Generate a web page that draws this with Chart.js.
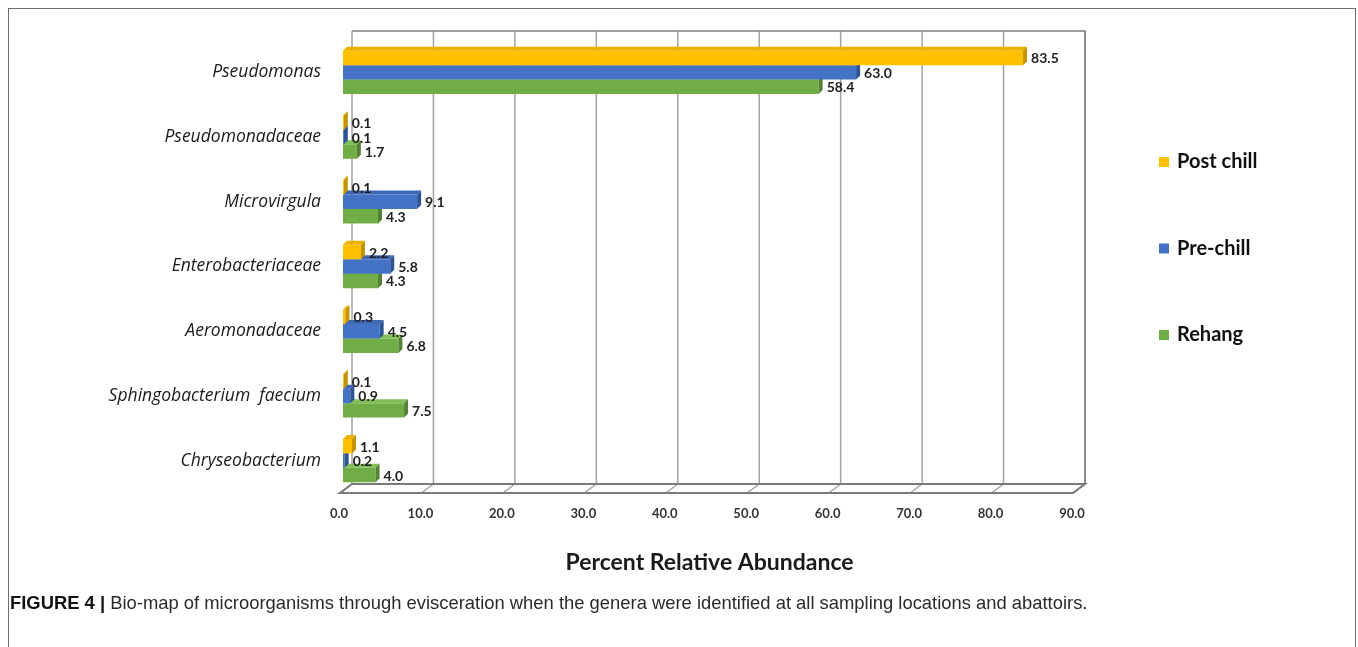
<!DOCTYPE html>
<html>
<head>
<meta charset="utf-8">
<script src="https://cdn.jsdelivr.net/npm/chart.js@4.4.0/dist/chart.umd.min.js"></script>
<style>
  html, body { margin: 0; padding: 0; background: #fff; }
  #wrap { position: relative; width: 1358px; height: 647px; overflow: hidden; }
  #frame { position: absolute; left: 8px; top: 8px; width: 1348px; height: 700px;
           border: 1.5px solid #6e6e6e; border-bottom: none; box-sizing: border-box; }
  #c { position: absolute; left: 0; top: 0; }
  #caption { position: absolute; left: 10px; top: 592px; font-family: "Liberation Sans", Arial, sans-serif;
             font-size: 18.4px; color: #2a2a2a; white-space: nowrap; }
  #caption b { color: #111; }
</style>
</head>
<body>
<div id="wrap">
  <div id="frame"></div>
  <canvas id="c" width="1358" height="647"></canvas>
  <div id="caption"><b>FIGURE 4 |</b> Bio-map of microorganisms through evisceration when the genera were identified at all sampling locations and abattoirs.</div>
</div>
<script>
// Genera / families on the vertical axis (top to bottom)
const categories = [
  'Pseudomonas',
  'Pseudomonadaceae',
  'Microvirgula',
  'Enterobacteriaceae',
  'Aeromonadaceae',
  'Sphingobacterium  faecium',
  'Chryseobacterium'
];

// Percent relative abundance at each sampling point
const postChill = [83.5, 0.1, 0.1, 2.2, 0.3, 0.1, 1.1];
const preChill  = [63.0, 0.1, 9.1, 5.8, 4.5, 0.9, 0.2];
const rehang    = [58.4, 1.7, 4.3, 4.3, 6.8, 7.5, 4.0];

const seriesNames = ['Post chill', 'Pre-chill', 'Rehang'];
const xTicks = [0, 10, 20, 30, 40, 50, 60, 70, 80, 90];

const BACK_DX = 9;      // back wall shift right of the bar fronts
const FRONT_DX = -3;    // floor front edge shift left of the bar fronts
const WALL_DY = 9;      // vertical depth of the box
const BAR_DEPTH = 4;    // extrusion of each bar

// Back wall, gridlines and floor of the 3-D plot box
const wallPlugin = {
  id: 'wall3d',
  beforeDatasetsDraw(chart) {
    const { ctx, chartArea: a, scales: { x } } = chart;
    const backTop = a.top - WALL_DY, backBottom = a.bottom - WALL_DY;
    ctx.save();
    ctx.lineCap = 'butt';
    ctx.strokeStyle = '#a3a3a3';
    ctx.lineWidth = 1.5;
    xTicks.forEach(v => {
      const px = x.getPixelForValue(v);
      ctx.beginPath();
      ctx.moveTo(px + BACK_DX, backTop);
      ctx.lineTo(px + BACK_DX, backBottom);
      ctx.stroke();
      ctx.beginPath();
      ctx.moveTo(px + FRONT_DX, a.bottom);
      ctx.lineTo(px + BACK_DX, backBottom);
      ctx.stroke();
    });
    const l = x.getPixelForValue(0), r = x.getPixelForValue(90);
    // wall outline (top and right edges)
    ctx.strokeStyle = '#808080';
    ctx.lineWidth = 1.6;
    ctx.beginPath();
    ctx.moveTo(l + BACK_DX, backTop);
    ctx.lineTo(r + BACK_DX, backTop);
    ctx.lineTo(r + BACK_DX, backBottom);
    ctx.stroke();
    // floor edges
    ctx.strokeStyle = '#7a7a7a';
    ctx.lineWidth = 2;
    ctx.beginPath();
    ctx.moveTo(l + BACK_DX, backBottom);
    ctx.lineTo(r + BACK_DX, backBottom);
    ctx.lineTo(r + FRONT_DX, a.bottom);
    ctx.lineTo(l + FRONT_DX, a.bottom);
    ctx.closePath();
    ctx.stroke();
    ctx.restore();
  },
  // top and side faces of each bar, drawn right after that series' fronts
  afterDatasetDraw(chart, args) {
    const ctx = chart.ctx;
    const ds = chart.data.datasets[args.index];
    const d = BAR_DEPTH;
    ctx.save();
    args.meta.data.forEach(bar => {
      const { x, y, base, height } = bar.getProps(['x', 'y', 'base', 'height'], true);
      const x0 = base, x1 = x, y0 = y - height / 2, y1 = y + height / 2;
      ctx.fillStyle = ds.topColor;
      ctx.beginPath();
      ctx.moveTo(x0, y0); ctx.lineTo(x1, y0); ctx.lineTo(x1 + d, y0 - d); ctx.lineTo(x0 + d, y0 - d);
      ctx.closePath(); ctx.fill();
      ctx.fillStyle = ds.sideColor;
      ctx.beginPath();
      ctx.moveTo(x1, y0); ctx.lineTo(x1 + d, y0 - d); ctx.lineTo(x1 + d, y1 - d); ctx.lineTo(x1, y1);
      ctx.closePath(); ctx.fill();
    });
    ctx.restore();
  },
  // value labels at the end of each bar
  afterDatasetsDraw(chart) {
    const ctx = chart.ctx;
    ctx.save();
    ctx.font = 'bold 14px Lato, sans-serif';
    ctx.fillStyle = '#1e1e1e';
    ctx.textAlign = 'left';
    ctx.textBaseline = 'middle';
    chart.data.datasets.forEach((ds, i) => {
      chart.getDatasetMeta(i).data.forEach((bar, j) => {
        const { x, y } = bar.getProps(['x', 'y'], true);
        ctx.fillText(ds.data[j].toFixed(1), x + BAR_DEPTH + 4, y + 1);
      });
    });
    ctx.restore();
  },
  // legend column on the right
  afterDraw(chart) {
    const ctx = chart.ctx;
    const o = chart.options.plugins.wall3d;
    ctx.save();
    ctx.font = 'bold 20px Lato, sans-serif';
    ctx.textBaseline = 'middle';
    chart.data.datasets.forEach((ds, i) => {
      const cy = o.legendTop + i * o.legendGap;
      ctx.fillStyle = ds.backgroundColor;
      ctx.fillRect(o.legendX, cy - 5, 10, 10);
      ctx.fillStyle = '#111';
      ctx.fillText(ds.label, o.legendX + 18, cy);
    });
    ctx.restore();
  }
};

const chart = new Chart(document.getElementById('c'), {
  type: 'bar',
  data: {
    labels: categories,
    datasets: [
      { label: seriesNames[0], data: postChill, backgroundColor: '#FFC000', topColor: '#EDB200', sideColor: '#C49300' },
      { label: seriesNames[1], data: preChill,  backgroundColor: '#4472C4', topColor: '#3E68B4', sideColor: '#2E5393' },
      { label: seriesNames[2], data: rehang,    backgroundColor: '#70AD47', topColor: '#82BE58', sideColor: '#548235' }
    ]
  },
  plugins: [wallPlugin],
  options: {
    indexAxis: 'y',
    responsive: false,
    animation: false,
    layout: { padding: { left: 0, top: 40, right: 282, bottom: 71 } },
    datasets: { bar: { categoryPercentage: 0.67, barPercentage: 1 } },
    plugins: {
      legend: { display: false },
      tooltip: { enabled: false },
      wall3d: { legendX: 1159, legendTop: 162, legendGap: 86.5 }
    },
    scales: {
      x: {
        min: 0, max: 90,
        afterBuildTicks(s) { s.ticks = xTicks.map(v => ({ value: v })); },
        ticks: { callback: v => Number(v).toFixed(1), font: { family: 'Lato', weight: 'bold', size: 13 },
                 color: '#333', padding: 13, maxRotation: 0, labelOffset: -4 },
        grid: { display: false, drawTicks: false },
        border: { display: false },
        title: { display: true, text: 'Percent Relative Abundance', color: '#1a1a1a',
                 font: { family: 'Lato', weight: 'bold', size: 23 }, padding: { top: 0, bottom: 0 } },
        afterFit(s) { s.height = 83; }
      },
      y: {
        ticks: { font: { family: 'Open Sans', style: 'italic', size: 17.5 }, color: '#1a1a1a', padding: 22 },
        grid: { display: false, drawTicks: false },
        border: { display: false },
        afterFit(s) { s.width = 343; }
      }
    }
  }
});
</script>
</body>
</html>
